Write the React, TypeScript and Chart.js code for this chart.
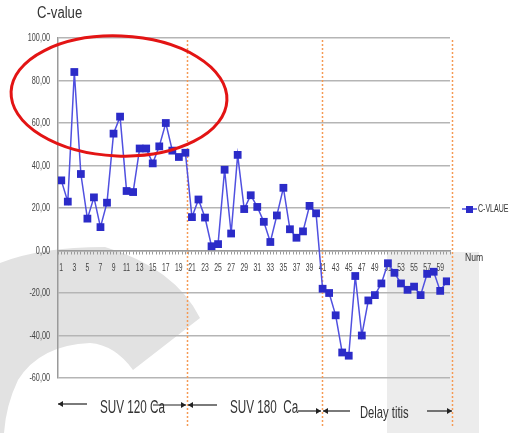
import React, { useEffect, useRef } from 'react';
import { Chart, registerables } from 'chart.js';

Chart.register(...registerables);

const categories = [
  1, 2, 3, 4, 5, 6, 7, 8, 9, 10, 11, 12, 13, 14, 15, 16, 17, 18, 19, 20,
  21, 22, 23, 24, 25, 26, 27, 28, 29, 30, 31, 32, 33, 34, 35, 36, 37, 38, 39, 40,
  41, 42, 43, 44, 45, 46, 47, 48, 49, 50, 51, 52, 53, 54, 55, 56, 57, 58, 59, 60,
];

const cValues = [
  33, 23, 84, 36, 15, 25, 11, 22.5, 55, 63, 28, 27.5, 48, 48, 41, 49, 60, 47, 44, 46,
  15.7, 24, 15.5, 2, 3, 38, 8, 45, 19.5, 26, 20.5, 13.5, 4, 16.5, 29.5, 10, 6, 9, 21, 17.5,
  -18, -20, -30.5, -48, -49.5, -12, -40, -23.5, -21, -15.5, -6, -10.5, -15.5, -18.5, -17, -21, -11, -10, -19, -14.5,
];

const xTickLabels = [1, 3, 5, 7, 9, 11, 13, 15, 17, 19, 21, 23, 25, 27, 29, 31, 33, 35, 37, 39, 41, 43, 45, 47, 49, 51, 53, 55, 57, 59];
const yTicks = [-60, -40, -20, 0, 20, 40, 60, 80, 100];
const seriesName = 'C-VLAUE';
const yTitle = 'C-value';
const xTitle = 'Num';
const separators = [20.3, 40.9, 60.75];
const phaseLabels = ['SUV 120 Ca', 'SUV 180  Ca', 'Delay titis'];

const FAMILY = "'Liberation Sans', Arial, sans-serif";

function narrowText(
  ctx: CanvasRenderingContext2D,
  text: string,
  x: number,
  y: number,
  size: number,
  align: CanvasTextAlign,
  sx: number,
  color = '#333'
) {
  ctx.save();
  ctx.font = `${size}px ${FAMILY}`;
  ctx.fillStyle = color;
  ctx.textBaseline = 'middle';
  ctx.textAlign = align;
  ctx.translate(x, y);
  ctx.scale(sx, 1);
  ctx.fillText(text, 0, 0);
  ctx.restore();
}

function drawArrow(ctx: CanvasRenderingContext2D, x1: number, x2: number, y: number, headAt: 'left' | 'right') {
  ctx.save();
  ctx.strokeStyle = '#222';
  ctx.fillStyle = '#222';
  ctx.lineWidth = 1.2;
  ctx.beginPath();
  ctx.moveTo(x1, y);
  ctx.lineTo(x2, y);
  ctx.stroke();
  ctx.beginPath();
  if (headAt === 'left') {
    ctx.moveTo(x1, y);
    ctx.lineTo(x1 + 5, y - 3);
    ctx.lineTo(x1 + 5, y + 3);
  } else {
    ctx.moveTo(x2, y);
    ctx.lineTo(x2 - 5, y - 3);
    ctx.lineTo(x2 - 5, y + 3);
  }
  ctx.closePath();
  ctx.fill();
  ctx.restore();
}

const decorPlugin = {
  id: 'decor',
  beforeDraw(chart: any) {
    const ctx: CanvasRenderingContext2D = chart.ctx;
    ctx.save();
    ctx.fillStyle = '#e2e2e2';
    ctx.beginPath();
    ctx.moveTo(0, 263);
    ctx.quadraticCurveTo(40, 247, 105, 247);
    ctx.quadraticCurveTo(175, 268, 200, 318);
    ctx.lineTo(133, 370);
    ctx.quadraticCurveTo(115, 345, 90, 343);
    ctx.quadraticCurveTo(40, 345, 18, 380);
    ctx.quadraticCurveTo(6, 405, 4, 433);
    ctx.lineTo(0, 433);
    ctx.closePath();
    ctx.fill();
    ctx.fillStyle = '#ececec';
    ctx.fillRect(387, 252, 92, 181);
    ctx.restore();
  },
  beforeDatasetsDraw(chart: any) {
    const ctx: CanvasRenderingContext2D = chart.ctx;
    const xs = chart.scales.x;
    const ys = chart.scales.y;
    ctx.save();
    ctx.strokeStyle = '#f59a55';
    ctx.lineWidth = 1.5;
    ctx.setLineDash([2, 2]);
    separators.forEach((v) => {
      const px = Math.round(xs.getPixelForValue(v)) + 0.5;
      ctx.beginPath();
      ctx.moveTo(px, 40);
      ctx.lineTo(px, 426);
      ctx.stroke();
    });
    ctx.restore();

    // tick labels (condensed)
    const y0 = ys.getPixelForValue(0);
    xTickLabels.forEach((v) => {
      narrowText(ctx, String(v), xs.getPixelForValue(v), y0 + 17, 11, 'center', 0.62, '#444');
    });
    yTicks.forEach((v) => {
      narrowText(ctx, v.toFixed(2).replace('.', ','), 50, ys.getPixelForValue(v), 11, 'right', 0.66, '#444');
    });
  },
  afterDraw(chart: any) {
    const ctx: CanvasRenderingContext2D = chart.ctx;
    ctx.save();
    narrowText(ctx, yTitle, 37, 14, 16, 'left', 0.82, '#333');

    // legend
    ctx.strokeStyle = '#4848dc';
    ctx.lineWidth = 1.5;
    ctx.beginPath();
    ctx.moveTo(462, 209);
    ctx.lineTo(477, 209);
    ctx.stroke();
    ctx.fillStyle = '#2b2bc8';
    ctx.fillRect(466, 206, 7, 7);
    narrowText(ctx, seriesName, 478, 209, 11, 'left', 0.64, '#333');

    narrowText(ctx, xTitle, 465, 258, 11, 'left', 0.78, '#333');

    // phase annotations
    narrowText(ctx, phaseLabels[0], 100, 408, 18, 'left', 0.65, '#333');
    narrowText(ctx, phaseLabels[1], 230, 408, 18, 'left', 0.65, '#333');
    narrowText(ctx, phaseLabels[2], 360, 413, 17, 'left', 0.66, '#333');
    drawArrow(ctx, 58, 87, 404, 'left');
    drawArrow(ctx, 153, 186, 405, 'right');
    drawArrow(ctx, 188, 217, 405, 'left');
    drawArrow(ctx, 298, 321, 411, 'right');
    drawArrow(ctx, 323, 350, 411, 'left');
    drawArrow(ctx, 427, 452, 411, 'right');

    // red ellipse
    ctx.strokeStyle = '#e31414';
    ctx.lineWidth = 3;
    ctx.beginPath();
    ctx.ellipse(119, 96, 108, 60, 0.04, 0, Math.PI * 2);
    ctx.stroke();
    ctx.restore();
  },
};

export default function App() {
  const ref = useRef<HTMLCanvasElement | null>(null);

  useEffect(() => {
    if (!ref.current) return;
    const chart = new Chart(ref.current, {
      type: 'line',
      data: {
        datasets: [
          {
            label: seriesName,
            data: categories.map((c, i) => ({ x: c, y: cValues[i] })),
            borderColor: '#5050e0',
            borderWidth: 1.5,
            pointStyle: 'rect',
            pointRadius: 5.5,
            pointBackgroundColor: '#2b2bc8',
            pointBorderColor: '#2b2bc8',
            pointBorderWidth: 0,
            tension: 0,
          },
        ],
      },
      options: {
        responsive: false,
        animation: false,
        events: [],
        layout: { padding: { left: 0, top: 38, right: 69, bottom: 55 } },
        plugins: {
          legend: { display: false },
          tooltip: { enabled: false },
        },
        scales: {
          x: {
            type: 'linear',
            position: { y: 0 } as any,
            min: 0.5,
            max: 60.5,
            afterBuildTicks: (s: any) => {
              const t: { value: number }[] = [];
              for (let k = 1; k <= 121; k++) t.push({ value: k * 0.5 });
              s.ticks = t;
            },
            ticks: { display: false, autoSkip: false, maxRotation: 0 },
            grid: { drawOnChartArea: false, drawTicks: true, tickLength: 3, color: '#9a9a9a', lineWidth: 1 },
            border: { color: '#9a9a9a', width: 1.5 },
          },
          y: {
            min: -60,
            max: 100,
            afterBuildTicks: (s: any) => {
              s.ticks = yTicks.map((v) => ({ value: v }));
            },
            afterFit: (s: any) => {
              s.width = 58;
            },
            ticks: { display: false },
            grid: { color: '#b5b5b5', lineWidth: 1.5, drawTicks: false },
            border: { color: '#9a9a9a', width: 1.5 },
          },
        },
      },
      plugins: [decorPlugin],
    });
    return () => chart.destroy();
  }, []);

  return (
    <div style={{ position: 'fixed', left: 0, top: 0, width: 519, height: 433, background: '#fff' }}>
      <canvas ref={ref} width={519} height={433} style={{ display: 'block', width: 519, height: 433 }} />
    </div>
  );
}
